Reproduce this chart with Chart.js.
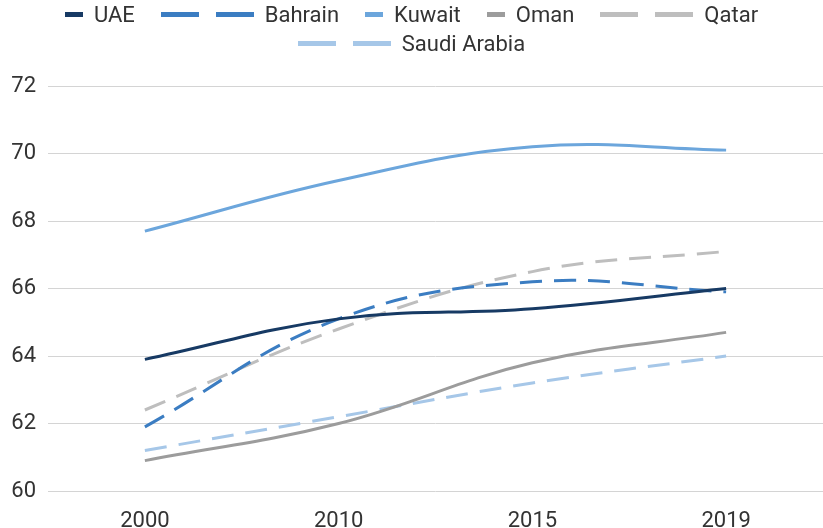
<!DOCTYPE html>
<html>
<head>
<meta charset="utf-8">
<script src="https://cdn.jsdelivr.net/npm/chart.js@4"></script>
<style>
  html, body { margin: 0; padding: 0; background: #fff; }
  #wrap { position: relative; width: 823px; height: 528px; }
  #chart { position: absolute; left: 0; top: 0; }
  #legend {
    position: absolute; left: 0; top: 0; width: 823px;
    font-family: Roboto, sans-serif; font-size: 22px; color: #333;
  }
  .row { display: flex; justify-content: center; align-items: center; height: 29px; }
  .item { display: flex; align-items: center; margin: 0 13px; }
  .sym { display: inline-block; height: 5px; }
  .label { margin-left: 11px; line-height: 29px; }
</style>
</head>
<body>
<div id="wrap">
  <canvas id="chart" width="823" height="528"></canvas>
  <div id="legend"></div>
</div>
<script>
// Dados
const years = ['2000', '2010', '2015', '2019'];
const countries = ['UAE', 'Bahrain', 'Kuwait', 'Oman', 'Qatar', 'Saudi Arabia'];
const uae = [63.9, 65.1, 65.4, 66.0];
const bahrain = [61.9, 65.1, 66.2, 65.9];
const kuwait = [67.7, 69.2, 70.2, 70.1];
const oman = [60.9, 62.0, 63.8, 64.7];
const qatar = [62.4, 64.8, 66.5, 67.1];
const saudi = [61.2, 62.2, 63.2, 64.0];

const colors = ['#173a64', '#3b7dc2', '#6ca6dc', '#9c9c9c', '#bebebe', '#a6c7e8'];
const dashed = [false, true, false, false, true, true];
const values = [uae, bahrain, kuwait, oman, qatar, saudi];

const datasets = countries.map((name, i) => ({
  label: name,
  data: values[i],
  borderColor: colors[i],
  backgroundColor: colors[i],
  borderWidth: 3,
  borderDash: dashed[i] ? [22, 12] : [],
  borderCapStyle: 'butt',
  tension: 0.4,
  pointRadius: 0,
  fill: false
}));

// Legenda em HTML (duas linhas)
function renderLegend() {
  const legend = document.getElementById('legend');
  const rows = [[0, 1, 2, 3, 4], [5]];
  legend.innerHTML = rows.map(r => `
    <div class="row">
      ${r.map(i => `
        <div class="item">
          ${dashed[i]
            ? `<span class="sym" style="width:38px;background:${colors[i]}"></span><span class="sym" style="width:38px;margin-left:17px;background:${colors[i]}"></span>`
            : `<span class="sym" style="width:18px;background:${colors[i]}"></span>`}
          <span class="label">${countries[i]}</span>
        </div>`).join('')}
    </div>`).join('');
}

const tickFont = { family: 'Roboto, sans-serif', size: 22 };

new Chart(document.getElementById('chart').getContext('2d'), {
  type: 'line',
  data: { labels: years, datasets: datasets },
  options: {
    responsive: false,
    animation: false,
    layout: { padding: { top: 86, right: 0, bottom: 0, left: 0 } },
    plugins: {
      legend: { display: false },
      tooltip: { enabled: false }
    },
    scales: {
      x: {
        offset: true,
        grid: { display: false },
        border: { display: false },
        ticks: { color: '#333', font: tickFont, padding: 9 },
        afterFit: s => { s.height = 37; }
      },
      y: {
        min: 60,
        max: 72,
        ticks: { stepSize: 2, color: '#333', font: tickFont, padding: 12 },
        grid: { color: '#d4d4d4', lineWidth: 1, drawTicks: false },
        border: { display: false },
        afterFit: s => { s.width = 48; }
      }
    }
  }
});

renderLegend();
</script>
</body>
</html>
